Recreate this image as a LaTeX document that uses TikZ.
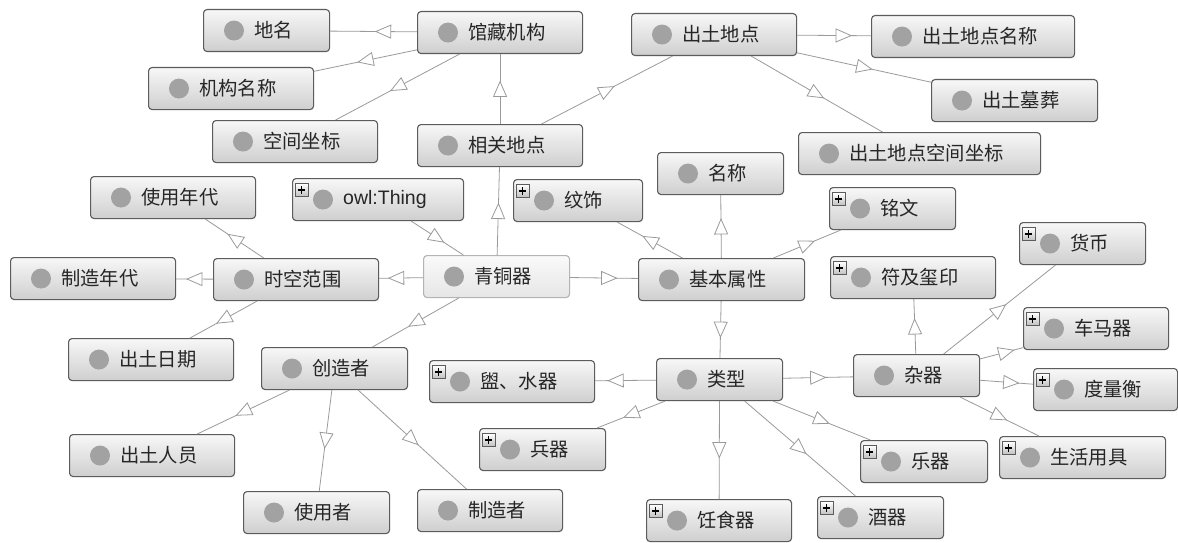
\documentclass[tikz,border=0pt]{standalone}
\usepackage{fontspec}
\newfontfamily\cjk{Noto Sans CJK SC}
\newfontfamily\lat{Liberation Sans}
\usetikzlibrary{decorations.markings}
\definecolor{bordergray}{HTML}{5C5C5C}
\definecolor{selborder}{HTML}{B4B4B4}
\definecolor{dotgray}{HTML}{A2A2A2}
\definecolor{txtgray}{HTML}{262626}
\definecolor{linegray}{HTML}{9A9A9A}
\tikzset{
  clsbox/.style={draw=bordergray, line width=1.1pt, rounded corners=3.5pt,
    top color=white!97!black, bottom color=black!19, minimum height=42pt,
    inner sep=0pt, anchor=north west},
  selbox/.style={clsbox, draw=selborder, top color=white!98!black, bottom color=black!10},
  clslbl/.style={anchor=west, inner sep=0pt, text=txtgray, font=\cjk\fontsize{19.3}{21}\selectfont},
  plusbox/.style={draw=bordergray, line width=0.8pt, top color=white, bottom color=black!25,
    minimum size=13pt, inner sep=0pt},
  plussign/.style={draw=black, line width=1.8pt},
  relline/.style={draw=linegray, line width=0.8pt},
  tri/.style={draw=linegray, fill=white, line width=0.8pt},
  midtri/.style={postaction={decorate}, decoration={markings,
    mark=at position 0.5 with {\filldraw[tri] (7.5pt,0pt) -- (-7.5pt,6.5pt) -- (-7.5pt,-6.5pt) -- cycle;}}}
}
\newcommand\cls[7]{%
  \node[#7, minimum width=#4pt] (#1) at (#2,#3) {};
  \fill[dotgray] ([xshift=31pt]#1.west) circle[radius=10pt];
  \node[clslbl] (#1-t) at ([xshift=51pt]#1.west) {#5};
  \ifnum#6=1
    \node[plusbox] (#1-p) at ([xshift=9.5pt,yshift=-12pt]#1.north west) {};
    \draw[plussign] ([xshift=-3.8pt]#1-p.center) -- ([xshift=3.8pt]#1-p.center)
      ([yshift=-3.8pt]#1-p.center) -- ([yshift=3.8pt]#1-p.center);
  \fi
}
\newcommand\rel[2]{%
  \draw[relline] (#1) -- (#2);
  \path[midtri] (#1.center) -- (#2.center);
}
\begin{document}
\begin{tikzpicture}[x=1pt,y=-1pt]
\fill[white] (0,0) rectangle (1178,543);
\useasboundingbox (0,0) rectangle (1178,543);
% nodes: name, left, top, width, text, plus, style
\cls{diming}{203}{9}{126}{地名}{0}{clsbox}
\cls{guancang}{417}{11}{165}{馆藏机构}{0}{clsbox}
\cls{jigou}{148}{67}{165}{机构名称}{0}{clsbox}
\cls{kongjian}{212}{120}{165}{空间坐标}{0}{clsbox}
\cls{xiangguan}{417}{124}{165}{相关地点}{0}{clsbox}
\cls{chutu}{631}{13}{165}{出土地点}{0}{clsbox}
\cls{chutumc}{871}{15}{203}{出土地点名称}{0}{clsbox}
\cls{mucang}{931}{79}{166}{出土墓葬}{0}{clsbox}
\cls{chutukj}{798}{132}{242}{出土地点空间坐标}{0}{clsbox}
\cls{mingcheng}{657}{152}{126}{名称}{0}{clsbox}
\cls{shiyongnd}{90}{176}{165}{使用年代}{0}{clsbox}
\cls{owl}{292}{178}{171}{{\lat\fontsize{19.5}{21}\selectfont owl:Thing}}{1}{clsbox}
\cls{wenshi}{513}{179}{129}{纹饰}{1}{clsbox}
\cls{mingwen}{829}{187}{126}{铭文}{1}{clsbox}
\cls{huobi}{1019}{222}{126}{货币}{1}{clsbox}
\cls{zhizaond}{10}{257}{165}{制造年代}{0}{clsbox}
\cls{shikong}{213}{258}{165}{时空范围}{0}{clsbox}
\cls{qingtong}{423}{255}{146}{青铜器}{0}{selbox}
\cls{jiben}{638}{258}{166}{基本属性}{0}{clsbox}
\cls{fuji}{830}{256}{165}{符及玺印}{1}{clsbox}
\cls{chema}{1023}{307}{145}{车马器}{1}{clsbox}
\cls{chuturiqi}{68}{338}{165}{出土日期}{0}{clsbox}
\cls{chuangzao}{261}{347}{146}{创造者}{0}{clsbox}
\cls{guan}{429}{360}{165}{盥、水器}{1}{clsbox}
\cls{leixing}{656}{358}{126}{类型}{0}{clsbox}
\cls{zaqi}{853}{354}{126}{杂器}{0}{clsbox}
\cls{duliang}{1033}{368}{144}{度量衡}{1}{clsbox}
\cls{bingqi}{479}{428}{126}{兵器}{1}{clsbox}
\cls{yueqi}{860}{440}{127}{乐器}{1}{clsbox}
\cls{shenghuo}{999}{436}{166}{生活用具}{1}{clsbox}
\cls{chuturenyuan}{69}{434}{165}{出土人员}{0}{clsbox}
\cls{shiyongzhe}{243}{491}{146}{使用者}{0}{clsbox}
\cls{zhizaozhe}{417}{489}{145}{制造者}{0}{clsbox}
\cls{renshi}{646}{499}{145}{饪食器}{1}{clsbox}
\cls{jiuqi}{817}{496}{126}{酒器}{1}{clsbox}
% relations
\rel{owl}{qingtong}
\rel{qingtong}{shikong}
\rel{qingtong}{jiben}
\rel{qingtong}{xiangguan}
\rel{qingtong}{chuangzao}
\rel{shikong}{shiyongnd}
\rel{shikong}{zhizaond}
\rel{shikong}{chuturiqi}
\rel{chuangzao}{chuturenyuan}
\rel{chuangzao}{shiyongzhe}
\rel{chuangzao}{zhizaozhe}
\rel{xiangguan}{guancang}
\rel{xiangguan}{chutu}
\rel{guancang}{diming}
\rel{guancang}{jigou}
\rel{guancang}{kongjian}
\rel{chutu}{chutumc}
\rel{chutu}{mucang}
\rel{chutu}{chutukj}
\rel{jiben}{wenshi}
\rel{jiben}{mingcheng}
\rel{jiben}{mingwen}
\rel{jiben}{leixing}
\rel{leixing}{guan}
\rel{leixing}{bingqi}
\rel{leixing}{renshi}
\rel{leixing}{yueqi}
\rel{leixing}{jiuqi}
\rel{leixing}{zaqi}
\rel{zaqi}{fuji}
\rel{zaqi}{huobi}
\rel{zaqi}{chema}
\rel{zaqi}{duliang}
\rel{zaqi}{shenghuo}
\end{tikzpicture}
\end{document}
